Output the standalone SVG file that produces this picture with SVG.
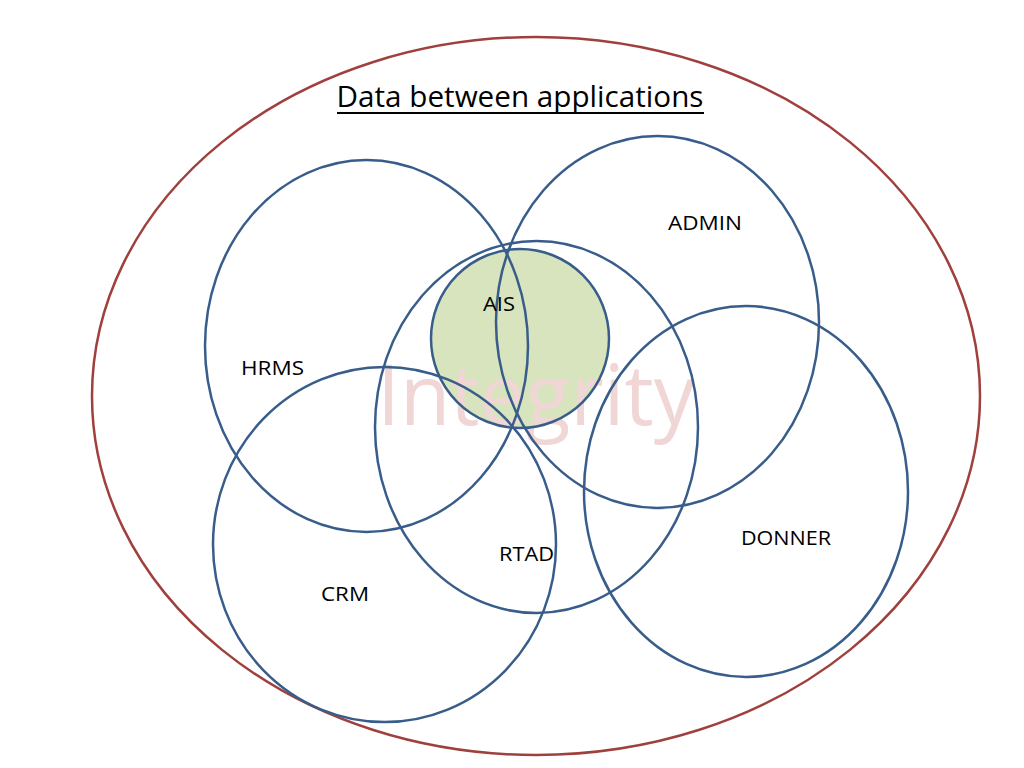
<svg xmlns="http://www.w3.org/2000/svg" width="1024" height="768" viewBox="0 0 1024 768">
<style>
.c{fill:none;stroke:#385d8a;stroke-width:2.5}
.lbl{font-family:"Open Sans","Liberation Sans",sans-serif;font-size:20px;fill:#000}
</style>
<rect width="1024" height="768" fill="#fff"/>
<g id="outer"><ellipse cx="536" cy="396" rx="444" ry="359" fill="none" stroke="#a0403d" stroke-width="2.5"/></g>
<g id="title"><text x="520" y="107" text-anchor="middle" font-family="'Open Sans','Liberation Sans',sans-serif" font-size="30" textLength="367" lengthAdjust="spacingAndGlyphs">Data between applications</text><line x1="337" y1="113" x2="704" y2="113" stroke="#000" stroke-width="1.8"/></g>
<g id="ais-fill"><ellipse cx="520" cy="338.5" rx="89" ry="89.5" fill="#d7e4bd"/></g>
<g id="watermark"><text x="536" y="425" text-anchor="middle" font-family="'Open Sans','Liberation Sans',sans-serif" font-size="84" fill="#f0d6d5" textLength="318" lengthAdjust="spacingAndGlyphs">Integrity</text></g>
<g id="hrms"><ellipse class="c" cx="366.5" cy="346" rx="161.5" ry="186"/><text class="lbl" x="241" y="375" textLength="63" lengthAdjust="spacingAndGlyphs">HRMS</text></g>
<g id="admin"><ellipse class="c" cx="657.5" cy="322" rx="161.5" ry="186"/><text class="lbl" x="668" y="230" textLength="74" lengthAdjust="spacingAndGlyphs">ADMIN</text></g>
<g id="rtad"><ellipse class="c" cx="536.5" cy="427" rx="161.5" ry="186"/><text class="lbl" x="499" y="561" textLength="55" lengthAdjust="spacingAndGlyphs">RTAD</text></g>
<g id="crm"><ellipse class="c" cx="384.5" cy="544.5" rx="171.5" ry="177.5"/><text class="lbl" x="321" y="601" textLength="48" lengthAdjust="spacingAndGlyphs">CRM</text></g>
<g id="donner"><ellipse class="c" cx="746" cy="491.5" rx="162" ry="185.5"/><text class="lbl" x="741" y="545" textLength="90" lengthAdjust="spacingAndGlyphs">DONNER</text></g>
<g id="ais"><ellipse class="c" cx="520" cy="338.5" rx="89" ry="89.5"/><text class="lbl" x="483" y="311" textLength="32" lengthAdjust="spacingAndGlyphs">AIS</text></g>
<g id="connectors"></g>
</svg>
